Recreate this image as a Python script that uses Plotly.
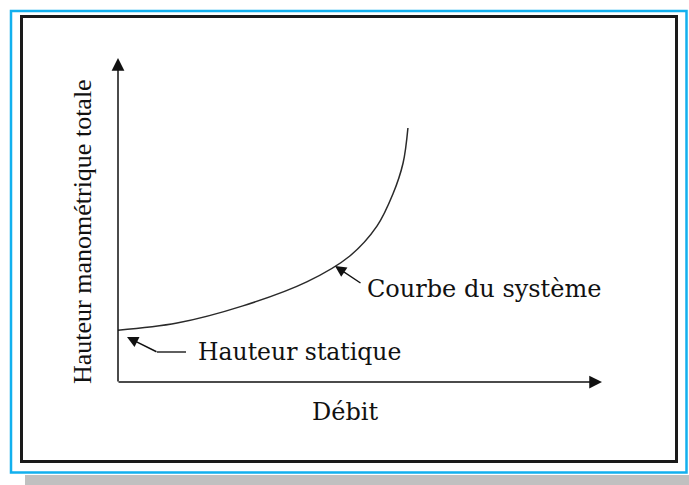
import plotly.graph_objects as go

# ---- data (system curve) ----
debit = [0.0, 1.22, 2.58, 3.90, 4.79, 5.35, 5.68, 5.89, 5.99]
hauteur = [1.60, 1.82, 2.35, 3.09, 3.89, 4.81, 5.80, 6.76, 7.84]

x_title = "Débit"
y_title = "Hauteur manométrique totale"
label_static = "Hauteur statique"
label_curve = "Courbe du système"

X_MAX = 10
Y_MAX = 10

# plot area geometry (pixels)
W_FIG, H_FIG = 689, 485
L, R, T, B = 118, 87, 58, 103
PW = W_FIG - L - R
PH = H_FIG - T - B


def px(xp):
    return (xp - L) / PW


def py(yp):
    return (H_FIG - B - yp) / PH


def dx(xp):
    return (xp - L) / PW * X_MAX


def dy(yp):
    return (H_FIG - B - yp) / PH * Y_MAX


fig = go.Figure()
fig.add_trace(go.Scatter(
    x=debit, y=hauteur, mode="lines",
    line=dict(color="#2a2a2a", width=1.5, shape="spline", smoothing=1.0),
    hoverinfo="skip", showlegend=False,
))

SERIF = "DejaVu Serif"
TIMES = "Liberation Serif"

shapes = [
    # grey shadow strip at bottom
    dict(type="rect", xref="paper", yref="paper",
         x0=px(25), x1=px(690), y0=py(475), y1=py(486),
         fillcolor="#c0c0c0", line=dict(width=0), layer="below"),
    # outer light-blue frame
    dict(type="rect", xref="paper", yref="paper",
         x0=px(11), x1=px(686.5), y0=py(11), y1=py(472.5),
         line=dict(color="#12b0ee", width=2.5), layer="below"),
    # inner black frame
    dict(type="rect", xref="paper", yref="paper",
         x0=px(21.5), x1=px(676.5), y0=py(16.5), y1=py(461.5),
         line=dict(color="#1a1a1a", width=3), layer="below"),
    # horizontal part of the "Hauteur statique" pointer
    dict(type="line", xref="x", yref="y",
         x0=dx(157), x1=dx(186), y0=dy(352), y1=dy(352),
         line=dict(color="#1a1a1a", width=1.4)),
]

annotations = [
    # x axis arrow
    dict(x=X_MAX, y=0, ax=dx(117), ay=0, xref="x", yref="y", axref="x", ayref="y",
         text="", showarrow=True, arrowhead=2, arrowsize=1.7, arrowwidth=1.5,
         arrowcolor="#111"),
    # y axis arrow
    dict(x=0, y=Y_MAX, ax=0, ay=dy(383), xref="x", yref="y", axref="x", ayref="y",
         text="", showarrow=True, arrowhead=2, arrowsize=1.7, arrowwidth=1.5,
         arrowcolor="#111"),
    # pointer to static head
    dict(x=dx(127), y=dy(337), ax=dx(158), ay=dy(352.5), xref="x", yref="y",
         axref="x", ayref="y", text="", showarrow=True, arrowhead=2,
         arrowsize=1.6, arrowwidth=1.4, arrowcolor="#111"),
    # pointer to system curve
    dict(x=dx(335), y=dy(266), ax=dx(362), ay=dy(284), xref="x", yref="y",
         axref="x", ayref="y", text="", showarrow=True, arrowhead=2,
         arrowsize=1.6, arrowwidth=1.4, arrowcolor="#111"),
    # labels
    dict(x=px(196), y=py(352), xref="paper", yref="paper", text=label_static,
         showarrow=False, xanchor="left", yanchor="middle",
         font=dict(family=SERIF, size=23.5, color="#111")),
    dict(x=px(365), y=py(289), xref="paper", yref="paper", text=label_curve,
         showarrow=False, xanchor="left", yanchor="middle",
         font=dict(family=SERIF, size=24, color="#111")),
    dict(x=px(345), y=py(412), xref="paper", yref="paper", text=x_title,
         showarrow=False, xanchor="center", yanchor="middle",
         font=dict(family=SERIF, size=24, color="#111")),
    dict(x=px(83), y=py(232), xref="paper", yref="paper", text=y_title,
         showarrow=False, xanchor="center", yanchor="middle", textangle=-90,
         font=dict(family=TIMES, size=26, color="#111")),
]

fig.update_layout(
    width=W_FIG, height=H_FIG,
    margin=dict(l=L, r=R, t=T, b=B, pad=0),
    paper_bgcolor="white", plot_bgcolor="white",
    xaxis=dict(range=[0, X_MAX], visible=False, fixedrange=True),
    yaxis=dict(range=[0, Y_MAX], visible=False, fixedrange=True),
    shapes=shapes, annotations=annotations, showlegend=False,
)

fig.write_html(
    "out.html",
    config={"displayModeBar": False},
    post_script="document.body.style.margin='0';document.body.style.overflow='hidden';",
)
